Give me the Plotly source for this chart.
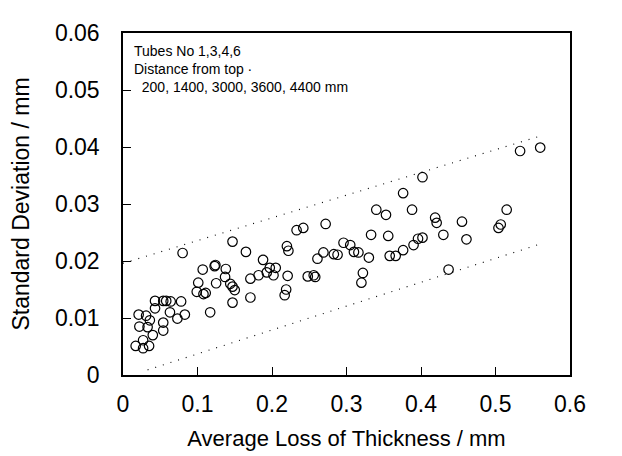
import plotly.graph_objects as go

# Average loss of thickness (mm)
loss_mm = [0.017, 0.027, 0.027, 0.035, 0.040, 0.054, 0.054, 0.022, 0.033, 0.021,
           0.031, 0.036, 0.043, 0.043, 0.054, 0.058, 0.064, 0.078, 0.063, 0.073,
           0.083, 0.080, 0.117, 0.101, 0.099, 0.108, 0.111, 0.107, 0.123, 0.124,
           0.125, 0.138, 0.137, 0.144, 0.147, 0.150, 0.147, 0.147, 0.165, 0.171,
           0.171, 0.182, 0.188, 0.193, 0.197, 0.202, 0.205, 0.220, 0.222, 0.221,
           0.219, 0.217, 0.233, 0.242, 0.248, 0.256, 0.258, 0.261, 0.269, 0.272,
           0.283, 0.288, 0.296, 0.305, 0.310, 0.316, 0.322, 0.320, 0.330, 0.333,
           0.340, 0.353, 0.356, 0.358, 0.366, 0.376, 0.376, 0.388, 0.390, 0.396,
           0.402, 0.419, 0.421, 0.430, 0.437, 0.455, 0.461, 0.504, 0.507, 0.515,
           0.402, 0.533, 0.560]
# Standard deviation (mm)
std_mm = [0.0051, 0.0061, 0.0047, 0.0051, 0.0070, 0.0078, 0.0092, 0.0085, 0.0084, 0.0106,
          0.0104, 0.0096, 0.0117, 0.0130, 0.0130, 0.0130, 0.0129, 0.0129, 0.0110, 0.0099,
          0.0106, 0.0214, 0.0110, 0.0162, 0.0146, 0.0142, 0.0144, 0.0185, 0.0191, 0.0193,
          0.0161, 0.0186, 0.0172, 0.0160, 0.0155, 0.0149, 0.0127, 0.0234, 0.0216, 0.0169,
          0.0136, 0.0175, 0.0202, 0.0180, 0.0188, 0.0175, 0.0188, 0.0226, 0.0218, 0.0174,
          0.0150, 0.0140, 0.0254, 0.0258, 0.0173, 0.0175, 0.0172, 0.0204, 0.0215, 0.0265,
          0.0212, 0.0211, 0.0232, 0.0228, 0.0216, 0.0215, 0.0179, 0.0162, 0.0206, 0.0246,
          0.0290, 0.0281, 0.0244, 0.0209, 0.0209, 0.0219, 0.0319, 0.0290, 0.0228, 0.0239,
          0.0241, 0.0276, 0.0267, 0.0246, 0.0185, 0.0269, 0.0238, 0.0258, 0.0264, 0.0290,
          0.0347, 0.0393, 0.0399]

# Bounding dotted lines (endpoints)
upper_x = [0.0, 0.557]
upper_y = [0.0196, 0.0418]
lower_x = [0.033, 0.563]
lower_y = [0.0009, 0.0231]

x_ticks = [0, 0.1, 0.2, 0.3, 0.4, 0.5, 0.6]
y_ticks = [0, 0.01, 0.02, 0.03, 0.04, 0.05, 0.06]

FONT = "Liberation Sans, Arial, sans-serif"

fig = go.Figure()
fig.add_trace(go.Scatter(x=upper_x, y=upper_y, mode="lines",
                         line=dict(color="black", width=1.1, dash="1px,7px"),
                         hoverinfo="skip", showlegend=False))
fig.add_trace(go.Scatter(x=lower_x, y=lower_y, mode="lines",
                         line=dict(color="black", width=1.1, dash="1px,7px"),
                         hoverinfo="skip", showlegend=False))
fig.add_trace(go.Scatter(x=loss_mm, y=std_mm, mode="markers",
                         marker=dict(symbol="circle-open", size=9.5, color="black",
                                     line=dict(width=1.2, color="black")),
                         showlegend=False))

fig.add_annotation(
    x=0.0, y=1.0, xref="paper", yref="paper", xanchor="left", yanchor="top",
    xshift=9, yshift=-8, align="left", showarrow=False,
    text="Tubes No 1,3,4,6<br>Distance from top ·<br>  200, 1400, 3000, 3600, 4400 mm",
    font=dict(family=FONT, size=14, color="black"))

fig.update_layout(
    width=622, height=456,
    margin=dict(l=113, r=60, t=22, b=89),
    paper_bgcolor="white", plot_bgcolor="white",
    font=dict(family=FONT, color="black"),
    xaxis=dict(range=[0, 0.6], tickvals=x_ticks, ticks="inside", ticklen=8,
               tickcolor="black", tickwidth=1.2, showgrid=False, zeroline=False,
               showline=True, linecolor="black", linewidth=1.5, mirror=True,
               tickfont=dict(family=FONT, size=23), ticklabelstandoff=8,
               title=dict(text="Average Loss of Thickness / mm", standoff=14,
                          font=dict(family=FONT, size=22))),
    yaxis=dict(range=[0, 0.06], tickvals=y_ticks, ticks="inside", ticklen=8,
               tickcolor="black", tickwidth=1.2, showgrid=False, zeroline=False,
               showline=True, linecolor="black", linewidth=1.5, mirror=True,
               tickfont=dict(family=FONT, size=23), ticklabelstandoff=17,
               title=dict(text="Standard Deviation / mm", standoff=19,
                          font=dict(family=FONT, size=23))),
)

fig.write_html("out.html")
